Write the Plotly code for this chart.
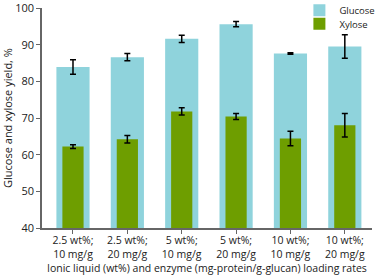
import plotly.graph_objects as go

categories = ["2.5 wt%;<br>10 mg/g", "2.5 wt%;<br>20 mg/g", "5 wt%;<br>10 mg/g",
              "5 wt%;<br>20 mg/g", "10 wt%;<br>10 mg/g", "10 wt%;<br>20 mg/g"]
glucose = [83.9, 86.6, 91.6, 95.6, 87.6, 89.5]
glucose_err = [2.0, 1.0, 1.0, 0.7, 0.2, 3.2]
xylose = [62.2, 64.2, 71.8, 70.4, 64.4, 68.0]
xylose_err = [0.5, 1.0, 1.0, 0.8, 2.0, 3.2]
yticks = [40, 50, 60, 70, 80, 90, 100]
x_title = "Ionic liquid (wt%) and enzyme (mg-protein/g-glucan) loading rates"
y_title = "Glucose and xylose yield, %"

xpos = list(range(len(categories)))
FONT = "Open Sans, Noto Sans, sans-serif"

fig = go.Figure()
fig.add_trace(go.Bar(
    x=xpos, y=glucose, width=0.61, name="Glucose", legend="legend",
    marker=dict(color="#8FD3DC", line=dict(width=0)),
    error_y=dict(type="data", array=glucose_err, color="black", thickness=1.5, width=3),
))
fig.add_trace(go.Bar(
    x=xpos, y=xylose, width=0.39, name="Xylose", legend="legend2",
    marker=dict(color="#6E9E00", line=dict(width=0)),
    error_y=dict(type="data", array=xylose_err, color="black", thickness=1.5, width=3),
))

fig.add_annotation(text=x_title, xref="paper", yref="paper", x=0.5, y=-0.18,
                   xanchor="center", yanchor="middle", showarrow=False,
                   font=dict(size=10.5, family=FONT, color="#222"))

legend_style = dict(xanchor="left", yanchor="middle", bgcolor="rgba(0,0,0,0)",
                    font=dict(size=9.5), itemwidth=30, borderwidth=0)

fig.update_layout(
    width=378, height=275,
    margin=dict(l=42, r=6, t=8, b=47, autoexpand=False),
    barmode="overlay",
    plot_bgcolor="white", paper_bgcolor="white",
    font=dict(family=FONT, size=11, color="#222"),
    showlegend=True,
    legend=dict(x=0.78, y=0.99, **legend_style),
    legend2=dict(x=0.78, y=0.928, **legend_style),
    xaxis=dict(
        range=[-0.57, 5.5], tickmode="array", tickvals=xpos, ticktext=categories,
        showline=True, linecolor="#666", linewidth=1.5, ticks="outside",
        ticklen=4, tickcolor="#666", showgrid=False, zeroline=False,
        tickfont=dict(size=10.5), ticklabelstandoff=-2, automargin=False,
    ),
    yaxis=dict(
        range=[40, 100], tickvals=yticks, showline=True, linecolor="#666",
        linewidth=1.5, ticks="outside", ticklen=4, tickcolor="#666",
        showgrid=False, zeroline=False, tickfont=dict(size=11),
        ticklabeloverflow="allow",
        title=dict(text=y_title, font=dict(size=11), standoff=4),
        automargin=False,
    ),
)

fig.write_html("out.html", config={"displayModeBar": False},
               post_script="document.body.style.margin='0';document.body.style.overflow='hidden';")
